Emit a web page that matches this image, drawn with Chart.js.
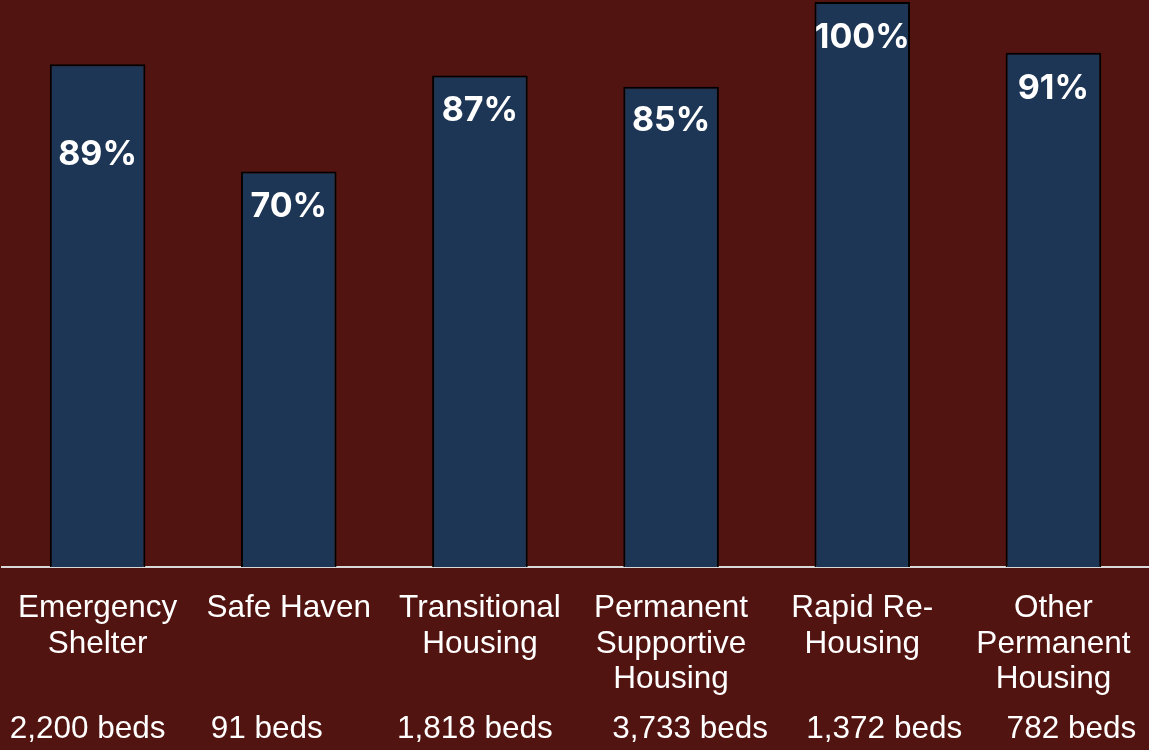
<!DOCTYPE html>
<html>
<head>
<meta charset="utf-8">
<script src="https://cdn.jsdelivr.net/npm/chart.js@4.4.1/dist/chart.umd.min.js"></script>
<style>
  html, body { margin: 0; padding: 0; background: #521410; }
  #wrap { width: 1149px; height: 750px; position: relative; }
</style>
</head>
<body>
<div id="wrap"><canvas id="chart"></canvas></div>
<script>
const categories = [
  ["Emergency", "Shelter"],
  ["Safe Haven"],
  ["Transitional", "Housing"],
  ["Permanent", "Supportive", "Housing"],
  ["Rapid Re-", "Housing"],
  ["Other", "Permanent", "Housing"],
];
const utilization = [89, 70, 87, 85, 100, 91];
const bedLabels = ["2,200 beds", "91 beds", "1,818 beds", "3,733 beds", "1,372 beds", "782 beds"];

// how far below the bar top each % label sits, and nudges for the beds row
const labelDrop = [91, 35, 35, 34, 36, 36];
const bedsShift = [-10, -22, -5, 19, 22, 18];

const barLabels = {
  id: "barLabels",
  afterDatasetsDraw(chart) {
    const ctx = chart.ctx;
    const bars = chart.getDatasetMeta(0).data;
    ctx.save();
    ctx.fillStyle = "#ffffff";
    ctx.textAlign = "center";
    ctx.textBaseline = "middle";
    ctx.font = "bold 34px Inter, Lato, sans-serif";
    bars.forEach((bar, i) => {
      ctx.fillText(utilization[i] + "%", bar.x, bar.y + labelDrop[i]);
    });
    ctx.font = "31.5px 'Liberation Sans', Arial, sans-serif";
    const xs = chart.scales.x;
    bedLabels.forEach((t, i) => {
      ctx.fillText(t, xs.getPixelForValue(i) + bedsShift[i], 729);
    });
    ctx.restore();
  },
};

new Chart(document.getElementById("chart"), {
  type: "bar",
  data: {
    labels: categories,
    datasets: [{
      data: utilization,
      backgroundColor: "#1e3655",
      borderColor: "#000000",
      borderWidth: 2,
      borderSkipped: "bottom",
      barPercentage: 0.5,
      categoryPercentage: 1,
    }],
  },
  options: {
    responsive: true,
    maintainAspectRatio: false,
    animation: false,
    layout: { padding: { top: 2, left: 2, right: 0, bottom: 0 } },
    plugins: { legend: { display: false }, tooltip: { enabled: false } },
    scales: {
      x: {
        grid: { display: false, drawTicks: false },
        border: { display: true, color: "#d9d9d9", width: 2 },
        ticks: {
          color: "#ffffff",
          padding: 23,
          autoSkip: false,
          maxRotation: 0,
          font: { family: "'Liberation Sans', Arial, sans-serif", size: 31.5, lineHeight: 1.14 },
        },
        afterFit(scale) {
          scale.height = 183;
          scale.paddingLeft = 0;
          scale.paddingRight = 0;
        },
      },
      y: {
        display: false,
        min: 0,
        max: 100,
      },
    },
  },
  plugins: [barLabels],
});
</script>
</body>
</html>
